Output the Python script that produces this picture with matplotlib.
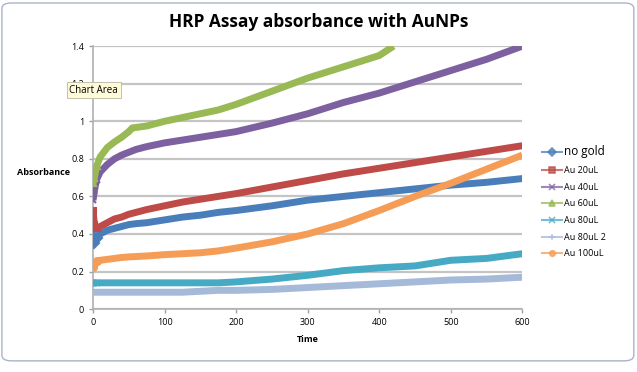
import matplotlib
matplotlib.use("Agg")
import matplotlib.pyplot as plt
from matplotlib.patches import FancyBboxPatch
from matplotlib.lines import Line2D

plt.rcParams['font.family'] = ['Open Sans', 'DejaVu Sans']

title = "HRP Assay absorbance with AuNPs"
x_label = "Time"
y_label = "Absorbance"

t = [0, 2, 5, 10, 20, 30, 40, 50, 60, 75, 100, 125, 150, 175, 200, 250, 300,
     350, 400, 450, 500, 550, 600]
t_green = [0, 2, 5, 10, 20, 30, 40, 50, 55, 60, 75, 100, 125, 150, 175, 200,
           250, 300, 350, 400, 420]

no_gold = [0.39, 0.35, 0.38, 0.40, 0.42, 0.43, 0.44, 0.45, 0.455, 0.46, 0.475,
           0.49, 0.50, 0.515, 0.525, 0.55, 0.58, 0.60, 0.62, 0.64, 0.66, 0.675, 0.695]
au20 = [0.52, 0.45, 0.43, 0.44, 0.46, 0.48, 0.49, 0.505, 0.515, 0.53, 0.55,
        0.57, 0.585, 0.60, 0.615, 0.65, 0.685, 0.72, 0.75, 0.78, 0.81, 0.84, 0.87]
au40 = [0.58, 0.63, 0.69, 0.73, 0.77, 0.80, 0.82, 0.835, 0.85, 0.865, 0.885,
        0.90, 0.915, 0.93, 0.945, 0.99, 1.04, 1.10, 1.15, 1.21, 1.27, 1.33, 1.40]
au60 = [0.67, 0.70, 0.76, 0.81, 0.86, 0.89, 0.915, 0.945, 0.965, 0.967, 0.975,
        1.0, 1.02, 1.04, 1.06, 1.09, 1.16, 1.23, 1.29, 1.35, 1.40]
au80 = [0.14, 0.14, 0.14, 0.14, 0.14, 0.14, 0.14, 0.14, 0.14, 0.14, 0.14,
        0.14, 0.14, 0.14, 0.145, 0.16, 0.18, 0.205, 0.22, 0.23, 0.26, 0.27, 0.295]
au80_2 = [0.09, 0.09, 0.09, 0.09, 0.09, 0.09, 0.09, 0.09, 0.09, 0.09, 0.09,
          0.09, 0.095, 0.10, 0.10, 0.105, 0.115, 0.125, 0.135, 0.145, 0.155, 0.16, 0.17]
au100 = [0.225, 0.245, 0.255, 0.26, 0.265, 0.27, 0.275, 0.278, 0.28, 0.283, 0.29,
         0.295, 0.30, 0.31, 0.325, 0.358, 0.40, 0.455, 0.525, 0.60, 0.67, 0.745, 0.82]

series = [
    ("no gold", t, no_gold, "#4A7EBB", "D"),
    ("Au 20uL", t, au20, "#BE4B48", "s"),
    ("Au 40uL", t, au40, "#7D60A0", "x"),
    ("Au 60uL", t_green, au60, "#98B954", "^"),
    ("Au 80uL", t, au80, "#46AAC5", "x"),
    ("Au 80uL 2", t, au80_2, "#A5B9D9", "+"),
    ("Au 100uL", t, au100, "#F59D56", "o"),
]

fig = plt.figure(figsize=(6.37, 3.72), dpi=100)
ax = fig.add_axes([0.146, 0.169, 0.674, 0.707])

handles = []
for name, xs, ys, col, mk in series:
    ax.plot(xs, ys, color=col, lw=5, solid_capstyle='butt',
            solid_joinstyle='round', zorder=3)
    ax.plot(xs[:3], ys[:3], color=col, lw=0, marker=mk, ms=5, mew=1.5, zorder=3)
    handles.append(Line2D([], [], color=col, lw=1.5, alpha=0.75, marker=mk,
                          ms=4, mew=1.2, label=name))

ax.set_xlim(0, 600)
ax.set_ylim(0, 1.4)
ax.set_xticks(range(0, 601, 100))
ax.set_yticks([0, 0.2, 0.4, 0.6, 0.8, 1.0, 1.2, 1.4])
ax.set_yticklabels(["0", "0.2", "0.4", "0.6", "0.8", "1", "1.2", "1.4"])
ax.tick_params(labelsize=6.5, length=3, color="#a0a0a0", width=1)
ax.grid(axis='y', color="#c4c4c4", lw=1.6)
ax.set_axisbelow(True)
for s in ['top', 'right']:
    ax.spines[s].set_visible(False)
for s in ['left', 'bottom']:
    ax.spines[s].set_color("#b0b0b0")
    ax.spines[s].set_linewidth(1.2)

ax.set_xlabel(x_label, fontsize=6.5, fontweight='bold', labelpad=6)
fig.text(0.027, 0.537, y_label, fontsize=6.5, fontweight='bold', va='center', ha='left')
fig.text(0.5, 0.94, title, fontsize=12.5, fontweight='bold', ha='center', va='center')

leg = ax.legend(handles=handles, loc='upper left', bbox_to_anchor=(1.035, 0.64),
                frameon=False, fontsize=6.5, handlelength=2.2, labelspacing=0.85,
                handletextpad=0.3, borderpad=0)
leg.get_texts()[0].set_fontsize(8.5)

fig.text(0.109, 0.758, "Chart Area", fontsize=7, ha='left', va='center', zorder=10,
         bbox=dict(boxstyle='square,pad=0.25', fc='#fffbd8', ec='#b8b8a0', lw=0.6))

border = FancyBboxPatch((0.003, 0.03), 0.992, 0.962, transform=fig.transFigure,
                        boxstyle='round,pad=0,rounding_size=0.015', fc='none',
                        ec='#a9b4c8', lw=1.0)
fig.patches.append(border)

fig.savefig("out.png", dpi=100)
